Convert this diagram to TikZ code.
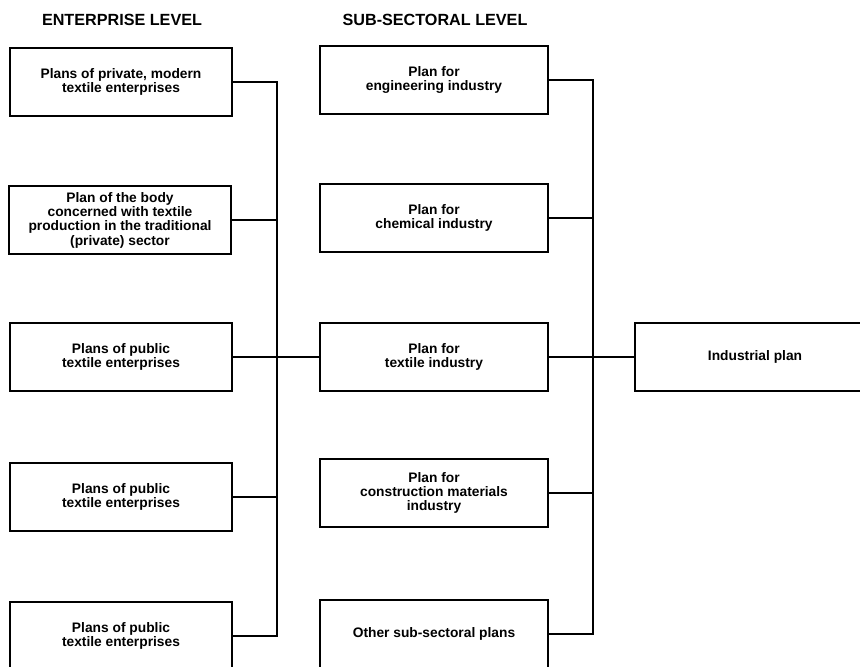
\documentclass[tikz,border=0pt]{standalone}
\usepackage{fontspec}
\setmainfont{Liberation Sans}
\begin{document}
\begin{tikzpicture}[x=0.025cm,y=-0.025cm,
    plan/.style={draw,line width=1.4pt,align=center,minimum height=1.7cm,
      font=\fontsize{9.8}{10.2}\selectfont\bfseries,inner sep=2pt},
    entplan/.style={plan,minimum width=5.55cm},
    subplan/.style={plan,minimum width=5.7cm},
    levelhead/.style={font=\fontsize{11.5}{12}\selectfont\bfseries},
    link/.style={line width=0.9pt}]
  \clip (0,0) rectangle (860,666);
  \node[levelhead] (enthead) at (122,20) {ENTERPRISE LEVEL};
  \node[levelhead] (subhead) at (435,20) {SUB-SECTORAL LEVEL};
  \node[entplan] (e1) at (121,82) {Plans of private, modern\\textile enterprises};
  \node[entplan] (e2) at (120,220) {Plan of the body\\concerned with textile\\production in the traditional\\(private) sector};
  \node[entplan] (e3) at (121,357) {Plans of public\\textile enterprises};
  \node[entplan] (e4) at (121,497) {Plans of public\\textile enterprises};
  \node[entplan] (e5) at (121,636) {Plans of public\\textile enterprises};
  \node[subplan] (s1) at (434,80) {Plan for\\engineering industry};
  \node[subplan] (s2) at (434,218) {Plan for\\chemical industry};
  \node[subplan] (s3) at (434,357) {Plan for\\textile industry};
  \node[subplan] (s4) at (434,493) {Plan for\\construction materials\\industry};
  \node[subplan] (s5) at (434,634) {Other sub-sectoral plans};
  \node[plan,minimum width=6cm] (ind) at (755,357) {Industrial plan};
  \coordinate (entbus) at (277,0);
  \coordinate (subbus) at (593,0);
  \draw[link] (e1.east) -| (entbus |- e5.east) -- (e5.east);
  \draw[link] (e2.east) -- (e2.east -| entbus);
  \draw[link] (e3.east) -- (s3.west);
  \draw[link] (e4.east) -- (e4.east -| entbus);
  \draw[link] (s1.east) -| (subbus |- s5.east) -- (s5.east);
  \draw[link] (s2.east) -- (s2.east -| subbus);
  \draw[link] (s3.east) -- (ind.west);
  \draw[link] (s4.east) -- (s4.east -| subbus);
\end{tikzpicture}
\end{document}
